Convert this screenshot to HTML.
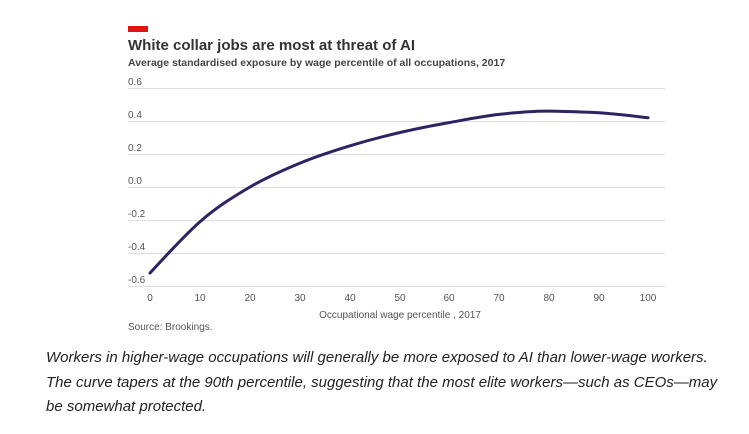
<!DOCTYPE html>
<html><head><style>
body{margin:0;width:749px;height:434px;background:#fff;font-family:"Liberation Sans",sans-serif;overflow:hidden;position:relative}
.t{position:absolute;white-space:nowrap}
</style></head><body>
<div style="position:absolute;left:128px;top:26px;width:20px;height:6px;background:#e3120b"></div>
<div class="t" style="left:128px;top:37px;font-size:15px;font-weight:bold;color:#333">White collar jobs are most at threat of AI</div>
<div class="t" style="left:128px;top:57px;font-size:10.5px;font-weight:bold;color:#444">Average standardised exposure by wage percentile of all occupations, 2017</div>
<svg width="749" height="434" style="position:absolute;left:0;top:0" font-family="Liberation Sans, sans-serif" font-size="10" fill="#555">
<g stroke="#ddd" stroke-width="1">
<line x1="128" x2="665" y1="88.5" y2="88.5"/><line x1="128" x2="665" y1="121.5" y2="121.5"/>
<line x1="128" x2="665" y1="154.5" y2="154.5"/><line x1="128" x2="665" y1="187.5" y2="187.5"/>
<line x1="128" x2="665" y1="220.5" y2="220.5"/><line x1="128" x2="665" y1="253.5" y2="253.5"/>
<line x1="128" x2="665" y1="286.5" y2="286.5"/></g>
<text x="128" y="85">0.6</text><text x="128" y="118">0.4</text><text x="128" y="151">0.2</text>
<text x="128" y="184">0.0</text><text x="128" y="217">-0.2</text><text x="128" y="250">-0.4</text><text x="128" y="283">-0.6</text>
<g text-anchor="middle">
<text x="150" y="301">0</text><text x="200" y="301">10</text><text x="250" y="301">20</text><text x="300" y="301">30</text>
<text x="350" y="301">40</text><text x="400" y="301">50</text><text x="449" y="301">60</text><text x="499" y="301">70</text>
<text x="549" y="301">80</text><text x="599" y="301">90</text><text x="648" y="301">100</text>
<text x="400" y="318">Occupational wage percentile , 2017</text></g>
<text x="128" y="330">Source: Brookings.</text>
<path d="M150,273 C158,264.5 183.3,236.3 200,221.7 C216.7,207.1 233.3,196.8 250,187 C266.7,177.2 283.3,170 300,163.1 C316.7,156.2 333.3,150.9 350,145.8 C366.7,140.7 383.2,136.4 400,132.5 C416.8,128.6 432.2,125.6 449,122.6 C465.8,119.6 482.3,116.3 499,114.4 C515.7,112.5 532.3,110.8 549,111.1 C565.7,111.4 582.2,111.7 599,112.8 C615.8,113.9 639.8,116.9 648,117.7" fill="none" stroke="#2d2463" stroke-width="3" stroke-linecap="round"/>
</svg>
<div class="t" style="left:46px;top:346px;font-size:15px;font-style:italic;color:#222;line-height:24.5px;white-space:normal;width:685px">Workers in higher-wage occupations will generally be more exposed to AI than lower-wage workers. The curve tapers at the 90th percentile, suggesting that the most elite workers—such as CEOs—may be somewhat protected.</div>
</body></html>
